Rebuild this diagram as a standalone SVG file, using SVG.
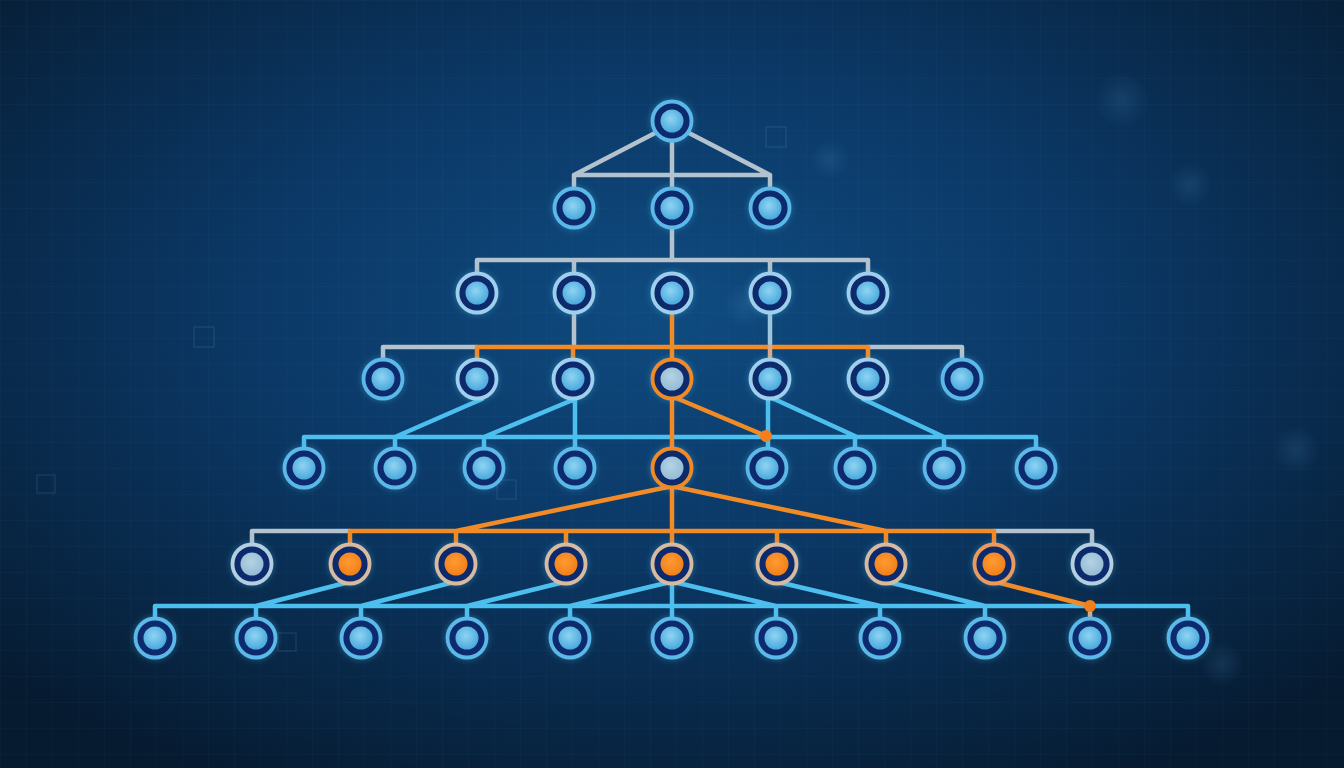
<svg xmlns="http://www.w3.org/2000/svg" width="1344" height="768" viewBox="0 0 1344 768">
<defs>
<radialGradient id="bg" cx="50%" cy="40%" r="70%">
<stop offset="0" stop-color="#0f4b80"/>
<stop offset="0.45" stop-color="#0b3866"/>
<stop offset="0.8" stop-color="#082644"/>
<stop offset="1" stop-color="#061a30"/>
</radialGradient>
<radialGradient id="core" cx="45%" cy="40%" r="60%">
<stop offset="0" stop-color="#8fd4f3"/>
<stop offset="1" stop-color="#4aa9dc"/>
</radialGradient>
<radialGradient id="coreG" cx="45%" cy="40%" r="60%">
<stop offset="0" stop-color="#b4d3e4"/>
<stop offset="1" stop-color="#95bbd4"/>
</radialGradient>
<radialGradient id="coreO" cx="45%" cy="40%" r="60%">
<stop offset="0" stop-color="#ff9a33"/>
<stop offset="1" stop-color="#f0801a"/>
</radialGradient>
<radialGradient id="bokeh">
<stop offset="0" stop-color="#5fa8d8" stop-opacity="0.14"/>
<stop offset="1" stop-color="#5fa8d8" stop-opacity="0"/>
</radialGradient>
<pattern id="grid" width="26" height="26" patternUnits="userSpaceOnUse">
<path d="M26 0H0V26" fill="none" stroke="#4a8cc0" stroke-opacity="0.08" stroke-width="1"/>
</pattern>
<filter id="glow" x="-50%" y="-50%" width="200%" height="200%">
<feDropShadow dx="0" dy="0" stdDeviation="3" flood-color="#4cc0ee" flood-opacity="0.4"/>
</filter>
<style>
.ring{fill:#0a2b6c;stroke:#5cb8e9;stroke-width:3.8}
.ring.p{stroke:#9fcfec}
.ring.h{stroke:#f08a24}
.ring.t{stroke:#d8bb9e}
.ring.to{stroke:#eb9a5c}
.ring.gr{stroke:#b4cfe0}
.core{fill:url(#core)}
.core.g{fill:url(#coreG)}
.core.o{fill:url(#coreO)}
.c{fill:none;stroke-width:4.5;stroke-linecap:round;stroke-linejoin:round}
.cg{stroke:#b3c2cc}
.co{stroke:#f28a25}
.cb{stroke:#4dbfee}
.ct{stroke:#d9a98a}
.deco{fill:none;stroke:#6aa6d0;stroke-opacity:0.15;stroke-width:1.5}
</style>
</defs>
<rect width="1344" height="768" fill="url(#bg)"/>
<rect width="1344" height="768" fill="url(#grid)"/>
<g id="decor">
<circle cx="1122" cy="100" r="28" fill="url(#bokeh)"/>
<circle cx="1190" cy="185" r="22" fill="url(#bokeh)"/>
<circle cx="1296" cy="450" r="24" fill="url(#bokeh)"/>
<circle cx="1222" cy="664" r="22" fill="url(#bokeh)"/>
<circle cx="830" cy="160" r="20" fill="url(#bokeh)"/>
<circle cx="745" cy="305" r="22" fill="url(#bokeh)"/>
<rect class="deco" x="766" y="127" width="20" height="20"/>
<rect class="deco" x="194" y="327" width="20" height="20"/>
<rect class="deco" x="497" y="480" width="19" height="19"/>
<rect class="deco" x="37" y="475" width="18" height="18"/>
<rect class="deco" x="278" y="633" width="18" height="18"/>
</g>
<g id="connectors" class="c">
<path class="c cg" d="M657 132L574 175M687 132L770 175M574 175H770M574 175V195M770 175V195M672 121V260"/>
<path class="c cg" d="M477 260H868M477 260V280M574 260V280M770 260V280M868 260V280"/>
<path class="c cg" d="M574 293V347M383 347H477M868 347H962M383 347V366M962 347V366"/>
<path class="c" stroke="#9cc6dc" d="M770 293V347"/>
<path class="c co" d="M672 293V379M477 347H868M477 347V366M573 347V366M868 347V366"/>
<path class="c ct" d="M770 347V366"/>
<path class="c cb" d="M304 437H1036M482 399L395 437M575 399L484 437M575 399V460M768 398V450M772 398L857 437M863 399L944 437M304 437V455M395 437V455M484 437V455M855 437V455M944 437V455M1036 437V455"/>
<path class="c co" d="M672 379V468M676 398L766 436"/>
<path class="c cg" d="M252 531H350M994 531H1092M252 531V550M1092 531V550"/>
<path class="c co" d="M672 468V564M350 531H994M668 487L456 531M676 487L886 531M350 531V550M456 531V550M566 531V550M777 531V550M886 531V550M994 531V550"/>
<path class="c cb" d="M155 606H1188M345 583L256 606M450 583L361 606M560 583L467 606M666 583L570 606M672 564V638M678 583L776 606M782 583L880 606M892 583L985 606M155 606V625M256 606V625M361 606V625M467 606V625M570 606V625M776 606V625M880 606V625M985 606V625M1188 606V625"/>
<path class="c ct" d="M1090 606V625"/>
<path class="c co" d="M1000 583L1090 606"/>
<circle cx="766" cy="436" r="6" fill="#f07f1c"/>
<circle cx="1090" cy="606" r="6" fill="#f07f1c"/>
</g>
<g id="nodes" filter="url(#glow)">
<g id="n0"><circle class="ring" cx="672" cy="121" r="19.5"/><circle class="core" cx="672" cy="121" r="11.5"/></g>
<g id="n1a"><circle class="ring" cx="574" cy="208" r="19.5"/><circle class="core" cx="574" cy="208" r="11.5"/></g>
<g id="n1b"><circle class="ring" cx="672" cy="208" r="19.5"/><circle class="core" cx="672" cy="208" r="11.5"/></g>
<g id="n1c"><circle class="ring" cx="770" cy="208" r="19.5"/><circle class="core" cx="770" cy="208" r="11.5"/></g>
<g id="n2a"><circle class="ring p" cx="477" cy="293" r="19.5"/><circle class="core" cx="477" cy="293" r="11.5"/></g>
<g id="n2b"><circle class="ring p" cx="574" cy="293" r="19.5"/><circle class="core" cx="574" cy="293" r="11.5"/></g>
<g id="n2c"><circle class="ring p" cx="672" cy="293" r="19.5"/><circle class="core" cx="672" cy="293" r="11.5"/></g>
<g id="n2d"><circle class="ring p" cx="770" cy="293" r="19.5"/><circle class="core" cx="770" cy="293" r="11.5"/></g>
<g id="n2e"><circle class="ring p" cx="868" cy="293" r="19.5"/><circle class="core" cx="868" cy="293" r="11.5"/></g>
<g id="n3a"><circle class="ring" cx="383" cy="379" r="19.5"/><circle class="core" cx="383" cy="379" r="11.5"/></g>
<g id="n3b"><circle class="ring p" cx="477" cy="379" r="19.5"/><circle class="core" cx="477" cy="379" r="11.5"/></g>
<g id="n3c"><circle class="ring p" cx="573" cy="379" r="19.5"/><circle class="core" cx="573" cy="379" r="11.5"/></g>
<g id="n3d"><circle class="ring h" cx="672" cy="379" r="19.5"/><circle class="core g" cx="672" cy="379" r="11.5"/></g>
<g id="n3e"><circle class="ring p" cx="770" cy="379" r="19.5"/><circle class="core" cx="770" cy="379" r="11.5"/></g>
<g id="n3f"><circle class="ring p" cx="868" cy="379" r="19.5"/><circle class="core" cx="868" cy="379" r="11.5"/></g>
<g id="n3g"><circle class="ring" cx="962" cy="379" r="19.5"/><circle class="core" cx="962" cy="379" r="11.5"/></g>
<g id="n4a"><circle class="ring" cx="304" cy="468" r="19.5"/><circle class="core" cx="304" cy="468" r="11.5"/></g>
<g id="n4b"><circle class="ring" cx="395" cy="468" r="19.5"/><circle class="core" cx="395" cy="468" r="11.5"/></g>
<g id="n4c"><circle class="ring" cx="484" cy="468" r="19.5"/><circle class="core" cx="484" cy="468" r="11.5"/></g>
<g id="n4d"><circle class="ring" cx="575" cy="468" r="19.5"/><circle class="core" cx="575" cy="468" r="11.5"/></g>
<g id="n4e"><circle class="ring h" cx="672" cy="468" r="19.5"/><circle class="core g" cx="672" cy="468" r="11.5"/></g>
<g id="n4f"><circle class="ring" cx="767" cy="468" r="19.5"/><circle class="core" cx="767" cy="468" r="11.5"/></g>
<g id="n4g"><circle class="ring" cx="855" cy="468" r="19.5"/><circle class="core" cx="855" cy="468" r="11.5"/></g>
<g id="n4h"><circle class="ring" cx="944" cy="468" r="19.5"/><circle class="core" cx="944" cy="468" r="11.5"/></g>
<g id="n4i"><circle class="ring" cx="1036" cy="468" r="19.5"/><circle class="core" cx="1036" cy="468" r="11.5"/></g>
<g id="n5a"><circle class="ring gr" cx="252" cy="564" r="19.5"/><circle class="core g" cx="252" cy="564" r="11.5"/></g>
<g id="n5b"><circle class="ring t" cx="350" cy="564" r="19.5"/><circle class="core o" cx="350" cy="564" r="11.5"/></g>
<g id="n5c"><circle class="ring t" cx="456" cy="564" r="19.5"/><circle class="core o" cx="456" cy="564" r="11.5"/></g>
<g id="n5d"><circle class="ring t" cx="566" cy="564" r="19.5"/><circle class="core o" cx="566" cy="564" r="11.5"/></g>
<g id="n5e"><circle class="ring t" cx="672" cy="564" r="19.5"/><circle class="core o" cx="672" cy="564" r="11.5"/></g>
<g id="n5f"><circle class="ring t" cx="777" cy="564" r="19.5"/><circle class="core o" cx="777" cy="564" r="11.5"/></g>
<g id="n5g"><circle class="ring t" cx="886" cy="564" r="19.5"/><circle class="core o" cx="886" cy="564" r="11.5"/></g>
<g id="n5h"><circle class="ring to" cx="994" cy="564" r="19.5"/><circle class="core o" cx="994" cy="564" r="11.5"/></g>
<g id="n5i"><circle class="ring gr" cx="1092" cy="564" r="19.5"/><circle class="core g" cx="1092" cy="564" r="11.5"/></g>
<g id="n6a"><circle class="ring" cx="155" cy="638" r="19.5"/><circle class="core" cx="155" cy="638" r="11.5"/></g>
<g id="n6b"><circle class="ring" cx="256" cy="638" r="19.5"/><circle class="core" cx="256" cy="638" r="11.5"/></g>
<g id="n6c"><circle class="ring" cx="361" cy="638" r="19.5"/><circle class="core" cx="361" cy="638" r="11.5"/></g>
<g id="n6d"><circle class="ring" cx="467" cy="638" r="19.5"/><circle class="core" cx="467" cy="638" r="11.5"/></g>
<g id="n6e"><circle class="ring" cx="570" cy="638" r="19.5"/><circle class="core" cx="570" cy="638" r="11.5"/></g>
<g id="n6f"><circle class="ring" cx="672" cy="638" r="19.5"/><circle class="core" cx="672" cy="638" r="11.5"/></g>
<g id="n6g"><circle class="ring" cx="776" cy="638" r="19.5"/><circle class="core" cx="776" cy="638" r="11.5"/></g>
<g id="n6h"><circle class="ring" cx="880" cy="638" r="19.5"/><circle class="core" cx="880" cy="638" r="11.5"/></g>
<g id="n6i"><circle class="ring" cx="985" cy="638" r="19.5"/><circle class="core" cx="985" cy="638" r="11.5"/></g>
<g id="n6j"><circle class="ring" cx="1090" cy="638" r="19.5"/><circle class="core" cx="1090" cy="638" r="11.5"/></g>
<g id="n6k"><circle class="ring" cx="1188" cy="638" r="19.5"/><circle class="core" cx="1188" cy="638" r="11.5"/></g>
</g>
</svg>
